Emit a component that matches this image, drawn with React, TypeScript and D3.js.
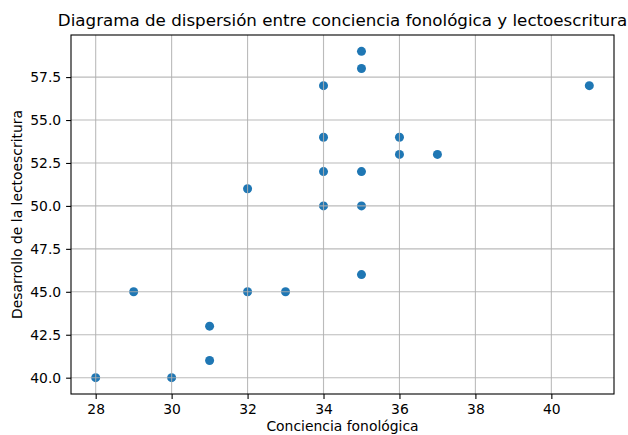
import React, { useRef, useEffect } from 'react';
import * as d3 from 'd3';

// Conciencia fonológica (x) vs desarrollo de la lectoescritura (y)
const concienciaFonologica = [35, 35, 34, 41, 34, 36, 36, 37, 34, 35, 32, 34, 35, 35, 29, 32, 33, 31, 31, 28, 30];
const lectoescritura = [59, 58, 57, 57, 54, 54, 53, 53, 52, 52, 51, 50, 50, 46, 45, 45, 45, 43, 41, 40, 40];
const xTicks = [28, 30, 32, 34, 36, 38, 40];
const yTicks = [40.0, 42.5, 45.0, 47.5, 50.0, 52.5, 55.0, 57.5];

const App: React.FC = () => {
  const svgRef = useRef<SVGSVGElement>(null);
  const width = 628;
  const height = 435;

  useEffect(() => {
    if (!svgRef.current) return;
    const svg = d3.select(svgRef.current);
    svg.selectAll('*').remove();

    const margin = { top: 35, right: 14, bottom: 41, left: 71 };
    const innerWidth = width - margin.left - margin.right;
    const innerHeight = height - margin.top - margin.bottom;
    const font = 'DejaVu Sans, sans-serif';

    // matplotlib-style 5% margins
    const xExt = d3.extent(concienciaFonologica) as [number, number];
    const yExt = d3.extent(lectoescritura) as [number, number];
    const xPad = (xExt[1] - xExt[0]) * 0.05;
    const yPad = (yExt[1] - yExt[0]) * 0.05;

    const x = d3.scaleLinear().domain([xExt[0] - xPad, xExt[1] + xPad]).range([0, innerWidth]);
    const y = d3.scaleLinear().domain([yExt[0] - yPad, yExt[1] + yPad]).range([innerHeight, 0]);

    const g = svg.append('g').attr('transform', `translate(${margin.left},${margin.top})`);

    // Points
    const points = concienciaFonologica.map((c, i) => ({ x: c, y: lectoescritura[i] }));
    g.selectAll('circle')
      .data(points)
      .enter()
      .append('circle')
      .attr('cx', d => x(d.x))
      .attr('cy', d => y(d.y))
      .attr('r', 4.5)
      .attr('fill', '#1f77b4');

    // Grid (drawn above the points like matplotlib)
    g.append('g')
      .selectAll('line')
      .data(xTicks)
      .enter()
      .append('line')
      .attr('x1', d => x(d))
      .attr('x2', d => x(d))
      .attr('y1', 0)
      .attr('y2', innerHeight)
      .attr('stroke', '#b0b0b0')
      .attr('stroke-width', 1.1)
      .attr('opacity', 0.85);
    g.append('g')
      .selectAll('line')
      .data(yTicks)
      .enter()
      .append('line')
      .attr('x1', 0)
      .attr('x2', innerWidth)
      .attr('y1', d => y(d))
      .attr('y2', d => y(d))
      .attr('stroke', '#b0b0b0')
      .attr('stroke-width', 1.1)
      .attr('opacity', 0.85);

    // Axes
    const xAxis = g.append('g')
      .attr('transform', `translate(0,${innerHeight})`)
      .call(d3.axisBottom(x).tickValues(xTicks).tickSize(4.9).tickPadding(4.9).tickFormat(d3.format('d')));
    const yAxis = g.append('g')
      .call(d3.axisLeft(y).tickValues(yTicks).tickSize(4.9).tickPadding(4.9).tickFormat(d3.format('.1f')));

    [xAxis, yAxis].forEach(ax => {
      ax.select('.domain').remove();
      ax.selectAll('line').attr('stroke', '#000').attr('stroke-width', 1.1);
      ax.selectAll('text').attr('fill', '#000').style('font-family', font).style('font-size', '13.9px');
    });

    // Frame
    g.append('rect')
      .attr('width', innerWidth)
      .attr('height', innerHeight)
      .attr('fill', 'none')
      .attr('stroke', '#000')
      .attr('stroke-width', 1.1);

    // Title
    svg.append('text')
      .attr('x', margin.left + innerWidth / 2)
      .attr('y', margin.top - 9)
      .attr('text-anchor', 'middle')
      .style('font-family', font)
      .style('font-size', '16.7px')
      .text('Diagrama de dispersión entre conciencia fonológica y lectoescritura');

    // Axis labels
    svg.append('text')
      .attr('x', margin.left + innerWidth / 2)
      .attr('y', height - 4)
      .attr('text-anchor', 'middle')
      .style('font-family', font)
      .style('font-size', '13.9px')
      .text('Conciencia fonológica');

    svg.append('text')
      .attr('transform', `translate(22,${margin.top + innerHeight / 2}) rotate(-90)`)
      .attr('text-anchor', 'middle')
      .style('font-family', font)
      .style('font-size', '13.9px')
      .text('Desarrollo de la lectoescritura');
  }, []);

  return <svg ref={svgRef} width={width} height={height} style={{ position: 'absolute', left: 0, top: 0 }} />;
};

export default App;
